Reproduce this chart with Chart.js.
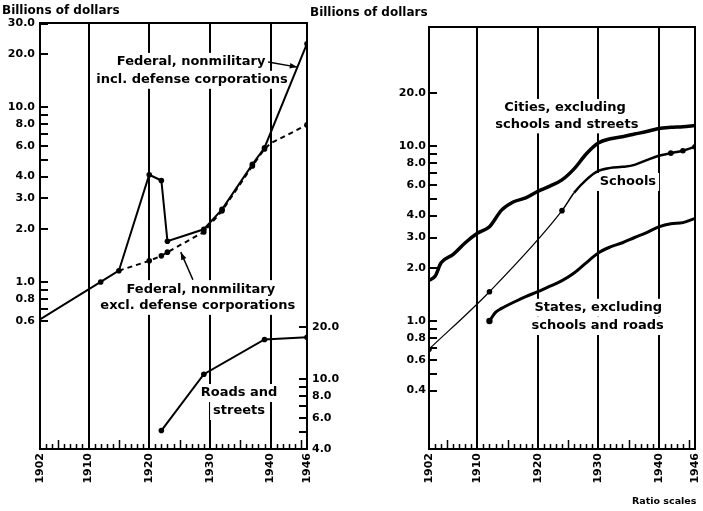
<!DOCTYPE html>
<html>
<head>
<meta charset="utf-8">
<script src="https://cdn.jsdelivr.net/npm/chart.js@4.4.1/dist/chart.umd.min.js"></script>
<style>
  body { margin: 0; background: #fff; }
  #wrap { position: relative; width: 703px; height: 511px; overflow: hidden; font-family: 'DejaVu Sans', sans-serif; font-weight: bold; color: #000; }
  canvas { position: absolute; top: 0; }
  .t { position: absolute; white-space: nowrap; }
</style>
</head>
<body>
<div id="wrap">
  <canvas id="leftChart" width="355" height="511" style="left:0"></canvas>
  <canvas id="rightChart" width="348" height="511" style="left:355px"></canvas>
  <div class="t" style="left:2px;top:3px;font-size:12px">Billions of dollars</div>
  <div class="t" style="left:310px;top:5px;font-size:12px">Billions of dollars</div>
  <div class="t" style="left:632px;top:495px;font-size:9.5px">Ratio scales</div>
</div>
<script>
// ---- data (billions of dollars) ----
const xTickYears = [1902, 1910, 1920, 1930, 1940, 1946];

// left panel
const fedInclYears  = [1902, 1912, 1915, 1920, 1922, 1923, 1929, 1932, 1937, 1939, 1946];
const fedInclValues = [0.61, 1.0, 1.16, 4.1, 3.8, 1.71, 2.0, 2.6, 4.7, 5.85, 23.0];
const fedExclYears  = [1915, 1920, 1922, 1923, 1929, 1932, 1937, 1939, 1940, 1946];
const fedExclValues = [1.16, 1.32, 1.41, 1.48, 1.93, 2.55, 4.6, 5.75, 6.2, 7.9];
const roadsYears    = [1922, 1929, 1939, 1946];
const roadsValues   = [5.1, 10.7, 16.9, 17.4];
const leftTickLabels  = [0.6, 0.8, 1, 2, 3, 4, 6, 8, 10, 20, 30];
const leftTickMarks   = [0.6, 0.7, 0.8, 0.9, 1, 2, 3, 4, 5, 6, 7, 8, 9, 10, 20, 30];
const roadsTickLabels = [4, 6, 8, 10, 20];
const roadsTickMarks  = [4, 5, 6, 7, 8, 9, 10, 20];

// right panel
const citiesYears  = [1902, 1903, 1904, 1906, 1908, 1910, 1912, 1914, 1916, 1918, 1920, 1922, 1924, 1926, 1928, 1930, 1932, 1934, 1936, 1938, 1940, 1942, 1944, 1946];
const citiesValues = [1.71, 1.8, 2.15, 2.4, 2.8, 3.17, 3.46, 4.3, 4.8, 5.05, 5.5, 5.9, 6.4, 7.4, 9.0, 10.4, 11.0, 11.3, 11.7, 12.1, 12.6, 12.8, 12.9, 13.1];
const schoolsYears  = [1902, 1912, 1924, 1926, 1928, 1930, 1932, 1934, 1936, 1938, 1940, 1942, 1944, 1946];
const schoolsValues = [0.69, 1.47, 4.27, 5.4, 6.4, 7.2, 7.5, 7.6, 7.8, 8.3, 8.8, 9.1, 9.4, 9.9];
const schoolsDotYears = [1902, 1912, 1924, 1942, 1944, 1946];
const statesYears  = [1912, 1913, 1914, 1916, 1918, 1920, 1922, 1924, 1926, 1928, 1930, 1932, 1934, 1936, 1938, 1940, 1942, 1944, 1946];
const statesValues = [1.0, 1.12, 1.18, 1.28, 1.38, 1.47, 1.58, 1.7, 1.88, 2.15, 2.45, 2.65, 2.8, 3.0, 3.2, 3.45, 3.6, 3.65, 3.86];
const rightTickLabels = [0.4, 0.6, 0.8, 1, 2, 3, 4, 6, 8, 10, 20];
const rightTickMarks  = [0.4, 0.5, 0.6, 0.7, 0.8, 0.9, 1, 2, 3, 4, 5, 6, 7, 8, 9, 10, 20];

const FONT = "'DejaVu Sans', sans-serif";
Chart.defaults.font.family = FONT;
Chart.defaults.color = '#000';

function pts(xs, ys) {
  return xs.map((x, i) => ({ x: x, y: ys[i] }));
}
function fixTicks(list) {
  return function (scale) { scale.ticks = list.map(v => ({ value: v })); };
}

// frame, inward tick marks
const framePlugin = {
  id: 'frame',
  afterDraw(chart, args, opts) {
    const ctx = chart.ctx, a = chart.chartArea, sx = chart.scales.x;
    ctx.save();
    ctx.strokeStyle = '#000';
    ctx.lineWidth = 2;
    ctx.strokeRect(a.left, a.top, a.right - a.left, a.bottom - a.top);
    ctx.lineWidth = 1.5;
    ctx.beginPath();
    for (let yr = 1903; yr < 1946; yr++) {
      if (yr % 10 === 0) continue;
      const x = Math.round(sx.getPixelForValue(yr)) + 0.5;
      ctx.moveTo(x, a.bottom);
      ctx.lineTo(x, a.bottom - (yr % 5 === 0 ? 9 : 5));
    }
    ctx.stroke();
    ctx.lineWidth = 2;
    ctx.beginPath();
    (opts.marks || []).forEach(m => {
      const s = chart.scales[m.axis];
      m.values.forEach(v => {
        const y = Math.round(s.getPixelForValue(v));
        const x0 = m.axis === 'y2' ? a.right : a.left;
        const dir = m.axis === 'y2' ? -1 : 1;
        ctx.moveTo(x0, y);
        ctx.lineTo(x0 + dir * 8, y);
      });
    });
    ctx.stroke();
    ctx.restore();
  }
};

// text labels with white boxes, and arrows
const notePlugin = {
  id: 'notes',
  beforeDatasetsDraw(chart, args, opts) {
    const ctx = chart.ctx, sx = chart.scales.x, sy = chart.scales.y;
    ctx.save();
    ctx.font = 'bold 13px ' + FONT;
    ctx.textAlign = 'center';
    ctx.textBaseline = 'middle';
    (opts.texts || []).forEach(t => {
      const x = sx.getPixelForValue(t.year), y = sy.getPixelForValue(t.value);
      const w = ctx.measureText(t.text).width;
      ctx.fillStyle = '#fff';
      ctx.fillRect(x - w / 2 - 3, y - 9, w + 6, 18);
      ctx.fillStyle = '#000';
      ctx.fillText(t.text, x, y);
    });
    ctx.strokeStyle = '#000';
    ctx.fillStyle = '#000';
    ctx.lineWidth = 1.5;
    (opts.arrows || []).forEach(r => {
      const x0 = sx.getPixelForValue(r.from[0]), y0 = sy.getPixelForValue(r.from[1]);
      const x1 = sx.getPixelForValue(r.to[0]), y1 = sy.getPixelForValue(r.to[1]);
      const ang = Math.atan2(y1 - y0, x1 - x0);
      ctx.beginPath();
      ctx.moveTo(x0, y0);
      ctx.lineTo(x1, y1);
      ctx.stroke();
      ctx.beginPath();
      ctx.moveTo(x1, y1);
      ctx.lineTo(x1 - 8 * Math.cos(ang - 0.35), y1 - 8 * Math.sin(ang - 0.35));
      ctx.lineTo(x1 - 8 * Math.cos(ang + 0.35), y1 - 8 * Math.sin(ang + 0.35));
      ctx.closePath();
      ctx.fill();
    });
    ctx.restore();
  }
};

const tickFont = { family: FONT, size: 11, weight: 'bold' };

function xScale(height) {
  return {
    type: 'linear', min: 1902, max: 1946, bounds: 'data',
    afterBuildTicks: fixTicks(xTickYears),
    afterFit: s => { s.height = height; s.paddingLeft = 0; s.paddingRight = 0; },
    ticks: { autoSkip: false, minRotation: 90, maxRotation: 90, padding: 4, font: tickFont, color: '#000', callback: v => String(v) },
    grid: { color: '#000', lineWidth: 2, drawTicks: false },
    border: { display: false }
  };
}
function logScale(pos, min, max, labels, width, pad) {
  return {
    type: 'logarithmic', position: pos, min: min, max: max, bounds: 'data',
    afterBuildTicks: fixTicks(labels),
    afterFit: s => { s.width = width; s.paddingTop = 0; s.paddingBottom = 0; },
    ticks: { autoSkip: false, padding: pad, font: tickFont, color: '#000', callback: v => Number(v).toFixed(1) },
    grid: { display: false, drawTicks: false },
    border: { display: false }
  };
}

const baseLine = { borderColor: '#000', backgroundColor: '#000', fill: false, pointRadius: 2.8, pointHoverRadius: 0, pointBorderWidth: 0 };

// Left panel
new Chart(document.getElementById('leftChart').getContext('2d'), {
  type: 'line',
  data: {
    datasets: [
      Object.assign({}, baseLine, {
        data: pts(fedInclYears, fedInclValues), borderWidth: 2, yAxisID: 'y',
        pointRadius: c => c.dataIndex === 0 ? 0 : 2.8
      }),
      Object.assign({}, baseLine, {
        data: pts(fedExclYears, fedExclValues), borderWidth: 2, borderDash: [5, 4], yAxisID: 'y',
        pointRadius: c => (c.dataIndex === 0 || fedExclYears[c.dataIndex] === 1940) ? 0 : 2.8
      }),
      Object.assign({}, baseLine, {
        data: pts(roadsYears, roadsValues), borderWidth: 2, yAxisID: 'y2'
      })
    ]
  },
  options: {
    responsive: false, animation: false, events: [],
    layout: { padding: { top: 23, left: 0, right: 0, bottom: 0 } },
    plugins: {
      legend: { display: false }, tooltip: { enabled: false },
      frame: { marks: [{ axis: 'y', values: leftTickMarks }, { axis: 'y2', values: roadsTickMarks }] },
      notes: {
        texts: [
          { text: 'Federal, nonmilitary', year: 1926.9, value: 18.1 },
          { text: 'incl. defense corporations', year: 1927.05, value: 14.3 },
          { text: 'Federal, nonmilitary', year: 1928.5, value: 0.91 },
          { text: 'excl. defense corporations', year: 1928.0, value: 0.73 },
          { text: 'Roads and', year: 1934.8, value: 0.232 },
          { text: 'streets', year: 1934.8, value: 0.183 }
        ],
        arrows: [
          { from: [1939.6, 18.1], to: [1944.4, 16.9] },
          { from: [1927.2, 1.03], to: [1925.2, 1.48] }
        ]
      }
    },
    scales: {
      x: xScale(62),
      y: logScale('left', 0.111, 30.2, leftTickLabels, 40, 5),
      y2: logScale('right', 4.0, 1087, roadsTickLabels, 48, 5)
    }
  },
  plugins: [framePlugin, notePlugin]
});

// Right panel
new Chart(document.getElementById('rightChart').getContext('2d'), {
  type: 'line',
  data: {
    datasets: [
      Object.assign({}, baseLine, {
        data: pts(citiesYears, citiesValues), borderWidth: 3.5, tension: 0.4, cubicInterpolationMode: 'monotone', pointRadius: 0
      }),
      Object.assign({}, baseLine, {
        data: pts(schoolsYears, schoolsValues), tension: 0.4, cubicInterpolationMode: 'monotone',
        borderWidth: 2.5,
        segment: { borderWidth: c => schoolsYears[c.p0DataIndex] < 1924 ? 1.2 : (schoolsYears[c.p0DataIndex] < 1926 ? 1.5 : 2.5) },
        pointRadius: c => schoolsDotYears.indexOf(schoolsYears[c.dataIndex]) >= 0 ? 2.8 : 0
      }),
      Object.assign({}, baseLine, {
        data: pts(statesYears, statesValues), borderWidth: 3, tension: 0.4, cubicInterpolationMode: 'monotone',
        pointRadius: c => c.dataIndex === 0 ? 3.2 : 0
      })
    ]
  },
  options: {
    responsive: false, animation: false, events: [],
    layout: { padding: { top: 27, left: 0, right: 8, bottom: 0 } },
    plugins: {
      legend: { display: false }, tooltip: { enabled: false },
      frame: { marks: [{ axis: 'y', values: rightTickMarks }] },
      notes: {
        texts: [
          { text: 'Cities, excluding', year: 1924.5, value: 16.5 },
          { text: 'schools and streets', year: 1924.8, value: 13.3 },
          { text: 'Schools', year: 1934.9, value: 6.23 },
          { text: 'States, excluding', year: 1930.0, value: 1.19 },
          { text: 'schools and roads', year: 1929.9, value: 0.936 }
        ]
      }
    },
    scales: {
      x: xScale(62),
      y: logScale('left', 0.1856, 47.86, rightTickLabels, 74, 3)
    }
  },
  plugins: [framePlugin, notePlugin]
});
</script>
</body>
</html>
